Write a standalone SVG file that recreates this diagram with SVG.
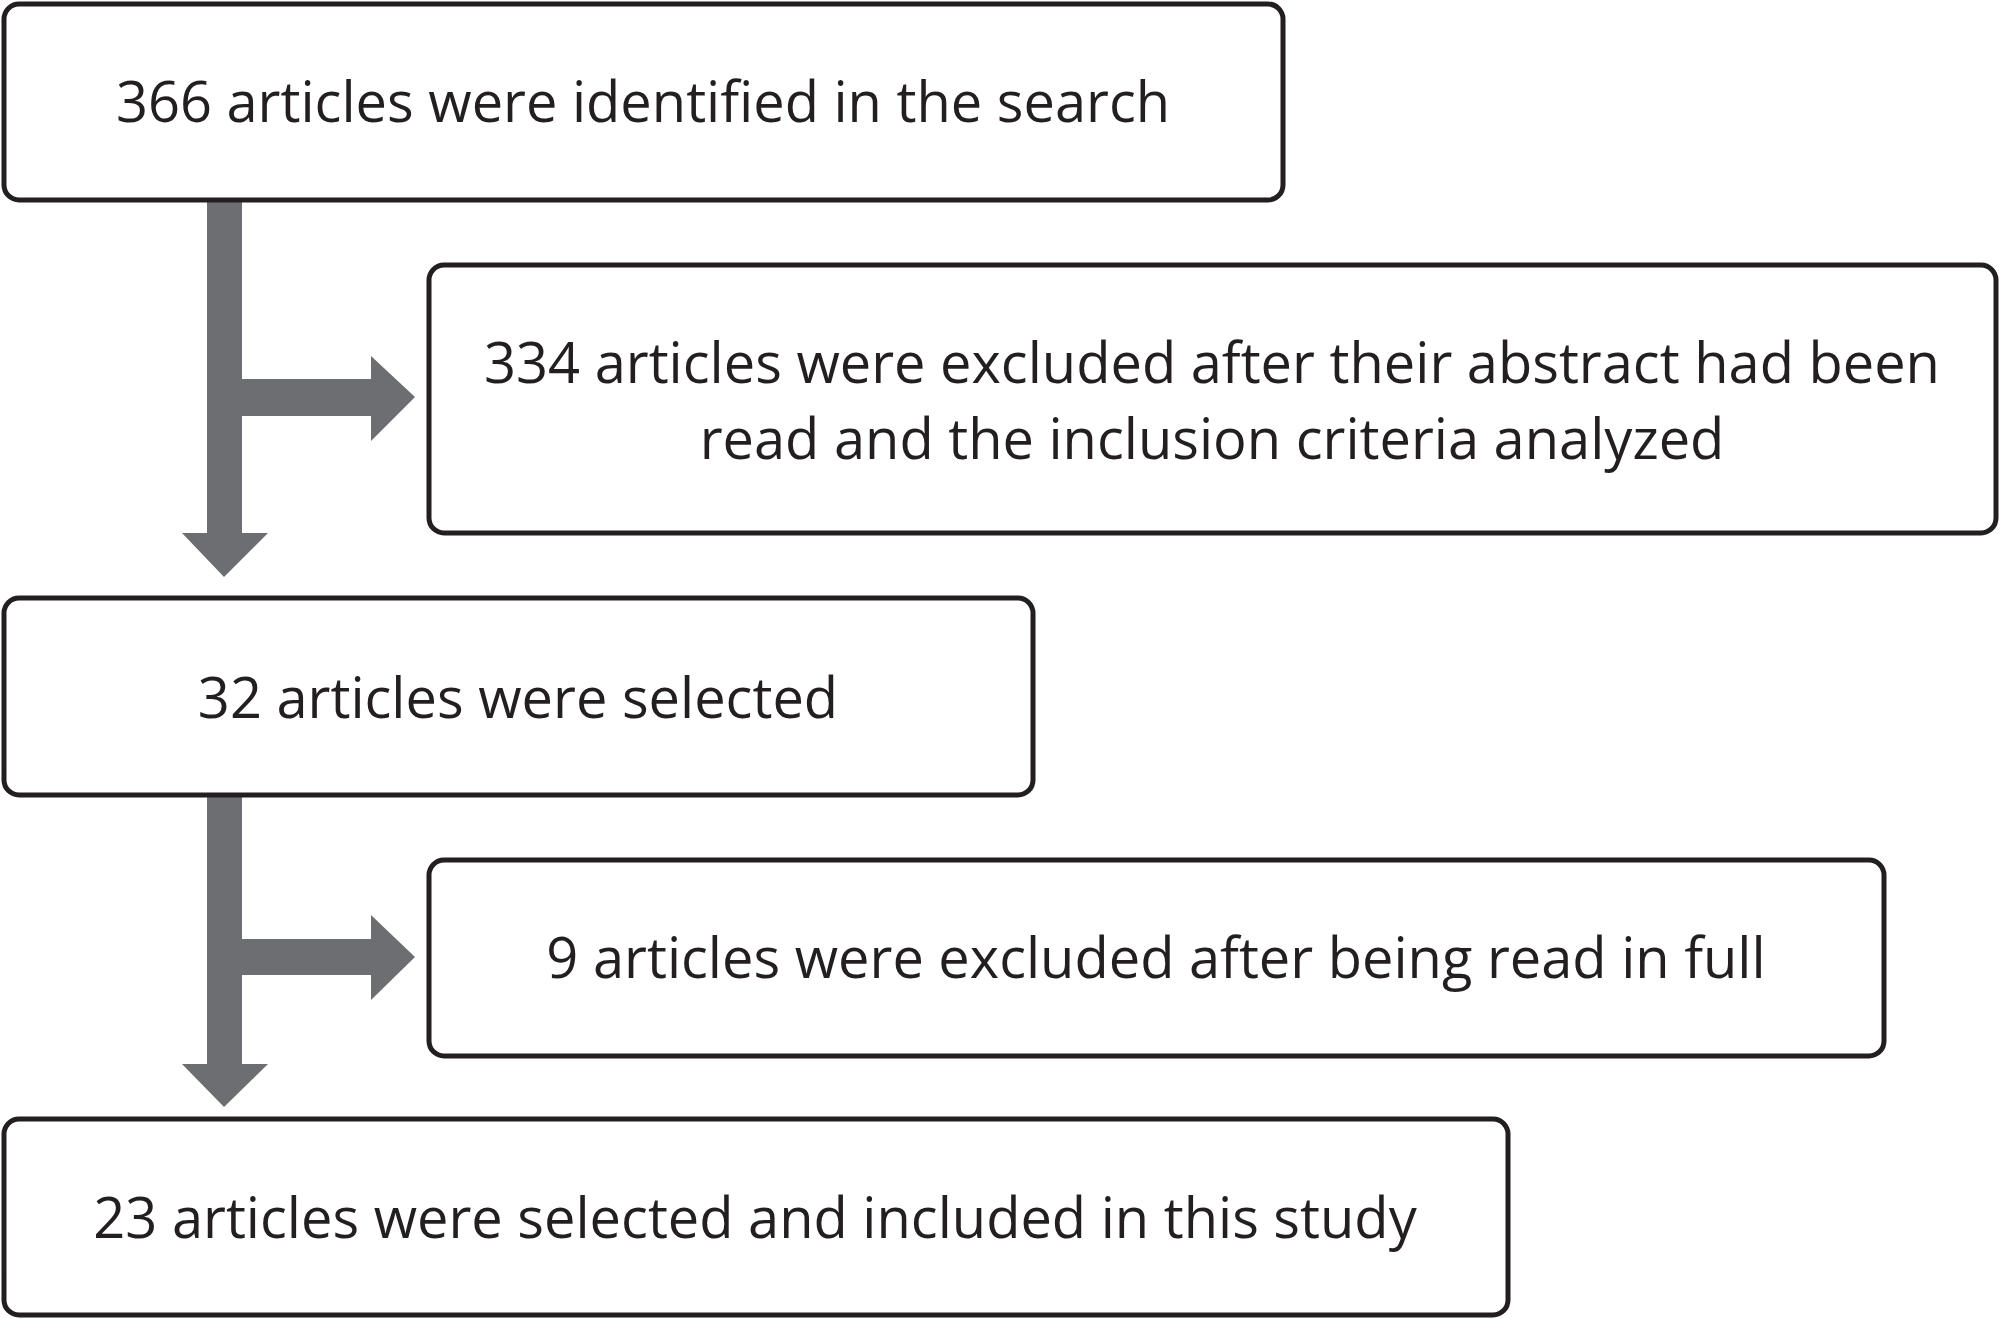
<svg xmlns="http://www.w3.org/2000/svg" width="2000" height="1319" viewBox="0 0 2000 1319">
<style>
.box{fill:#fff;stroke:#231f20;stroke-width:5}
.t{font-family:"Open Sans","Noto Sans","Liberation Sans",sans-serif;font-size:56px;fill:#231f20;text-anchor:middle}
.arr{fill:#6d6e71}
</style>
<rect width="2000" height="1319" fill="#fff"/>
<g id="connectors">
<path class="arr" d="M207,200 H242 V379 H371 V356 L415,397 L371,441 V416 H242 V533 H268 L224,577 L182,533 H207 Z"/>
<path class="arr" d="M207,795 H242 V939 H371 V915 L415,957 L371,1000 V975 H242 V1064 H268 L224,1107 L182,1064 H207 Z"/>
</g>
<g id="n1"><rect class="box" x="4" y="4" width="1279" height="196" rx="15"/><text class="t" x="643" y="122">366 articles were identified in the search</text></g>
<g id="n2"><rect class="box" x="429" y="265" width="1567" height="268" rx="15"/><text class="t" x="1212" y="383">334 articles were excluded after their abstract had been</text><text class="t" x="1212" y="459">read and the inclusion criteria analyzed</text></g>
<g id="n3"><rect class="box" x="4" y="598" width="1029" height="197" rx="15"/><text class="t" x="518" y="718">32 articles were selected</text></g>
<g id="n4"><rect class="box" x="429" y="860" width="1455" height="196" rx="15"/><text class="t" x="1156" y="978">9 articles were excluded after being read in full</text></g>
<g id="n5"><rect class="box" x="4" y="1119" width="1504" height="196" rx="15"/><text class="t" x="755" y="1238">23 articles were selected and included in this study</text></g>
</svg>
